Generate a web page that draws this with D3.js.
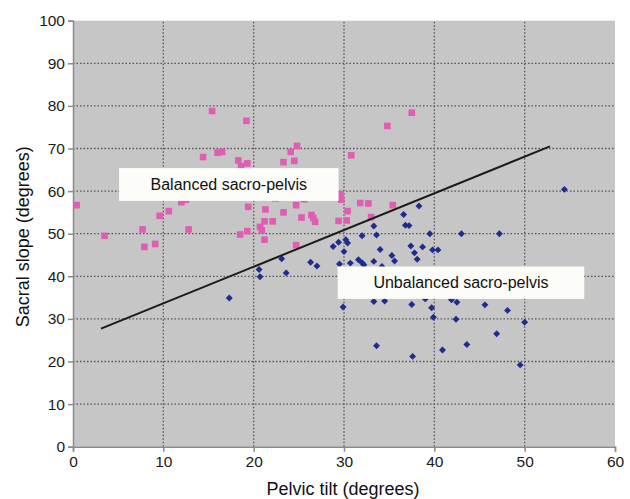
<!DOCTYPE html>
<html><head><meta charset="utf-8">
<script src="https://cdn.jsdelivr.net/npm/d3@7"></script>
<style>
html,body{margin:0;padding:0;background:#fff;}
svg{display:block;font-family:Arial,"Liberation Sans",Helvetica,sans-serif;}
</style></head>
<body><svg id="c" width="630" height="499"></svg>
<script>
// Balanced sacro-pelvis (pink squares): pelvic tilt, sacral slope
const balancedPT = [0.4,3.5,7.7,7.9,9.1,9.6,10.6,12.0,12.5,12.8,14.4,15.4,16.0,16.5,18.3,18.6,19.3,19.2,18.5,19.3,19.4,20.7,20.9,21.2,21.3,21.2,22.1,22.4,23.3,23.3,24.1,24.5,24.8,24.7,24.7,25.3,25.6,26.4,26.6,26.8,29.4,29.6,29.7,30.3,30.4,30.8,31.8,32.7,33.0,34.8,35.4,37.5];
const balancedSS = [56.7,49.5,51.0,46.9,47.6,54.2,55.3,57.4,58.0,51.0,68.0,78.8,69.0,69.2,67.2,65.9,66.5,76.5,49.8,50.6,56.3,51.6,50.8,48.6,55.7,52.9,52.9,58.3,55.0,66.8,69.2,67.1,70.6,56.7,47.3,53.8,58.1,54.4,53.7,52.8,53.0,59.3,58.0,53.1,55.3,68.4,57.2,57.1,53.9,75.3,56.7,78.4];
// Unbalanced sacro-pelvis (blue diamonds)
const unbalancedPT = [17.3,20.6,20.7,23.1,23.6,26.3,27.0,28.8,29.4,29.5,30.0,30.2,30.4,30.7,31.6,32.0,32.2,32.0,33.3,33.6,33.3,34.0,34.2,35.3,35.6,36.6,36.8,37.2,37.4,37.8,38.1,38.3,38.7,39.5,39.8,40.4,43.0,47.2,54.4,29.9,33.3,34.5,37.5,39.0,39.7,39.9,41.9,42.5,42.4,45.6,48.1,50.0,46.9,33.6,37.6,40.9,43.6,49.5];
const unbalancedSS = [34.9,41.6,39.9,44.1,40.8,43.3,42.4,47.0,48.0,42.9,45.8,48.6,47.8,43.1,43.9,43.2,42.7,49.5,51.8,49.7,43.5,46.3,42.3,44.9,43.6,54.5,52.0,51.9,47.1,45.5,44.0,56.5,46.9,50.0,46.2,46.2,50.0,50.0,60.4,32.8,34.1,34.2,33.4,34.7,32.6,30.4,34.5,33.9,29.9,33.3,32.0,29.2,26.5,23.7,21.2,22.7,24.0,19.2];
// Separation line endpoints
const linePT = [3.1, 52.8];
const lineSS = [27.7, 70.5];
// Tick labels
const xTicks = [0,10,20,30,40,50,60];
const yTicks = [0,10,20,30,40,50,60,70,80,90,100];
// Region labels: text and box extents in data units
const labelText = ["Balanced sacro-pelvis","Unbalanced sacro-pelvis"];
const labelX0 = [5.1, 29.3];
const labelX1 = [29.4, 56.6];
const labelY0 = [65.4, 42.3];
const labelY1 = [57.7, 34.7];
const xTitle = "Pelvic tilt (degrees)";
const yTitle = "Sacral slope (degrees)";

const W = 630, H = 499;
const m = {left:73, top:20.7, right:15, bottom:52.3};
const svg = d3.select("#c");
const x = d3.scaleLinear().domain([0,60]).range([m.left, W-m.right]);
const y = d3.scaleLinear().domain([0,100]).range([H-m.bottom, m.top]);

// plot background
svg.append("rect").attr("x",x(0)).attr("y",y(100)).attr("width",x(60)-x(0)).attr("height",y(0)-y(100)).attr("fill","#c6c6c6");

// gridlines
const g = svg.append("g");
g.selectAll(".gx").data(xTicks.filter(d=>d>0&&d<60)).join("line")
 .attr("x1",d=>x(d)).attr("x2",d=>x(d)).attr("y1",y(0)).attr("y2",y(100))
 .attr("stroke","#555").attr("stroke-width",1.3).attr("stroke-dasharray","1.5,2");
g.selectAll(".gy").data(yTicks.filter(d=>d>0&&d<100)).join("line")
 .attr("x1",x(0)).attr("x2",x(60)).attr("y1",d=>y(d)).attr("y2",d=>y(d))
 .attr("stroke","#555").attr("stroke-width",1.3).attr("stroke-dasharray","1.5,2");

// axes
const xAxis = svg.append("g").attr("transform",`translate(0,${y(0)})`)
  .call(d3.axisBottom(x).tickValues(xTicks).tickSize(5).tickPadding(4).tickFormat(d3.format("d")));
const yAxis = svg.append("g").attr("transform",`translate(${x(0)},0)`)
  .call(d3.axisLeft(y).tickValues(yTicks).tickSize(5).tickPadding(3).tickFormat(d3.format("d")));
[xAxis,yAxis].forEach(a=>{
  a.selectAll("path,line").attr("stroke","#8a8a8a").attr("stroke-width",1.5);
  a.selectAll("text").attr("fill","#1a1a1a").style("font-size","15.5px").style("font-family","Arial, 'Liberation Sans', sans-serif");
});

// balanced points
const bal = balancedPT.map((d,i)=>({x:d,y:balancedSS[i]}));
const unb = unbalancedPT.map((d,i)=>({x:d,y:unbalancedSS[i]}));
svg.append("g").selectAll("path").data(bal).join("path")
  .attr("d", d3.symbol(d3.symbolSquare, 44))
  .attr("transform", d=>`translate(${x(d.x)},${y(d.y)})`)
  .attr("fill","#e05db3");
svg.append("g").selectAll("path").data(unb).join("path")
  .attr("d", d3.symbol(d3.symbolSquare, 24))
  .attr("transform", d=>`translate(${x(d.x)},${y(d.y)}) rotate(45)`)
  .attr("fill","#1d2c8e");

// separation line
svg.append("line").attr("x1",x(linePT[0])).attr("y1",y(lineSS[0])).attr("x2",x(linePT[1])).attr("y2",y(lineSS[1]))
  .attr("stroke","#1a1a1a").attr("stroke-width",2);

// region labels
labelText.forEach((t,i)=>{
  const x0=x(labelX0[i]), x1=x(labelX1[i]), y0=y(labelY0[i]), y1=y(labelY1[i]);
  svg.append("rect").attr("x",x0).attr("y",y0).attr("width",x1-x0).attr("height",y1-y0).attr("fill","#fcfcf8");
  svg.append("text").attr("x",(x0+x1)/2).attr("y",(y0+y1)/2).attr("dy","0.36em")
    .attr("text-anchor","middle").attr("fill","#111").style("font-size","16px").text(t);
});

// axis titles
svg.append("text").attr("x",(x(0)+x(60))/2 - 1).attr("y",495).attr("text-anchor","middle")
  .attr("fill","#111").style("font-size","18px").text(xTitle);
svg.append("text").attr("transform",`translate(29,${(y(0)+y(100))/2 + 3}) rotate(-90)`).attr("text-anchor","middle")
  .attr("fill","#111").style("font-size","18px").text(yTitle);
</script></body></html>
